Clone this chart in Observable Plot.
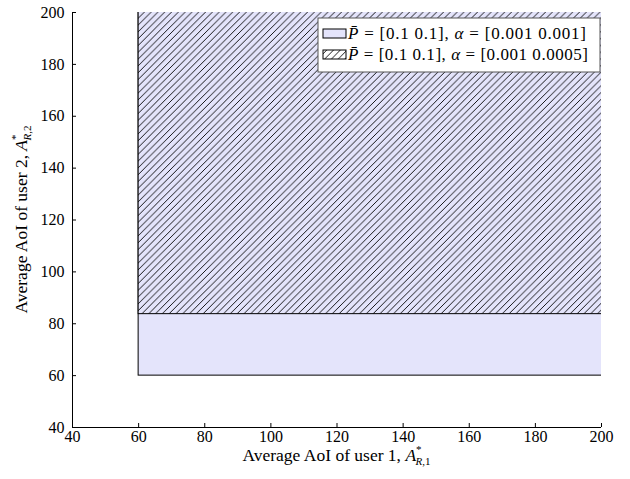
<!DOCTYPE html>
<html><head><meta charset="utf-8">
<script src="https://cdn.jsdelivr.net/npm/d3@7"></script>
<script src="https://cdn.jsdelivr.net/npm/@observablehq/plot@0.6"></script>
<style>
body{margin:0;background:#fff}
#chart{position:relative;width:630px;height:479px}
</style>
</head><body><div id="chart"></div>
<script>
// ---- data ----
const xTicks = [40, 60, 80, 100, 120, 140, 160, 180, 200];
const yTicks = [40, 60, 80, 100, 120, 140, 160, 180, 200];
const regionNames = ["alpha = [0.001 0.001]", "alpha = [0.001 0.0005]"];
const regionX1 = [60, 60];
const regionY1 = [60, 83.7];
const regionX2 = [260, 260];   // region extends beyond the plotted window
const regionY2 = [260, 260];
const legendPrefix = "P\u0304";
const legendTexts = [" = [0.1 0.1], ", " = [0.1 0.1], "];
const legendAlphas = [" = [0.001 0.001]", " = [0.001 0.0005]"];
const legendWidths = [238, 240];
const xLabelText = "Average AoI of user 1, ";
const yLabelText = "Average AoI of user 2, ";
const xLabelSub = "R,1";
const yLabelSub = "R,2";

const FILL = "#e4e4fb";
const regions = regionNames.map((n, i) => ({name: n, x1: regionX1[i], x2: regionX2[i], y1: regionY1[i], y2: regionY2[i]}));

const W = 630, H = 479, ML = 72, MR = 29, MT = 12, MB = 52;
const plot = Plot.plot({
  width: W, height: H,
  marginLeft: ML, marginRight: MR, marginTop: MT, marginBottom: MB,
  style: {fontFamily: "'Liberation Serif', serif", fontSize: "16px", color: "black", background: "white"},
  x: {domain: [40, 200]},
  y: {domain: [40, 200]},
  marks: [
    Plot.rect([regions[0]], {x1: "x1", x2: "x2", y1: "y1", y2: "y2", fill: FILL, stroke: "black", strokeWidth: 1, clip: true}),
    Plot.rect([regions[1]], {x1: "x1", x2: "x2", y1: "y1", y2: "y2", fill: "url(#hatchL)", stroke: "black", strokeWidth: 1, clip: true}),
    Plot.axisX({ticks: xTicks, tickSize: -4, tickPadding: 7, label: null, tickFormat: d => String(d)}),
    Plot.axisY({ticks: yTicks, tickSize: -4, tickPadding: 12, label: null, tickFormat: d => String(d)}),
    Plot.ruleX([40], {y1: 40, y2: 200, stroke: "black"}),
    Plot.ruleY([40], {x1: 40, x2: 200, stroke: "black"})
  ]
});
document.getElementById("chart").appendChild(plot);

const svg = d3.select(plot);
const defs = svg.insert("defs", ":first-child");
function hatch(id, bg) {
  const s = 6.8;
  const p = defs.append("pattern").attr("id", id).attr("patternUnits", "userSpaceOnUse")
    .attr("width", s).attr("height", s);
  p.append("rect").attr("width", s).attr("height", s).attr("fill", bg);
  p.append("path").attr("d", `M-1,1 l2,-2 M0,${s} l${s},-${s} M${s - 1},${s + 1} l2,-2`)
    .attr("stroke", "black").attr("stroke-width", 0.9).attr("fill", "none");
}
hatch("hatchL", FILL);
hatch("hatchW", "white");

// axis titles
const cx = (ML + (W - MR)) / 2;
const cy = (MT + (H - MB)) / 2;
function title(g, text, sub) {
  g.append("tspan").text(text);
  g.append("tspan").attr("font-style", "italic").text("A");
  g.append("tspan").attr("dy", -8).attr("font-size", "11px").text("*");
  g.append("tspan").attr("dy", 12).attr("dx", -6).attr("font-size", "11px").attr("font-style", "italic").text(sub[0]);
  g.append("tspan").attr("font-size", "11px").text(sub.slice(1));
}
const xt = svg.append("text").attr("x", cx).attr("y", 461).attr("text-anchor", "middle")
  .attr("font-size", "17.5px").attr("fill", "black");
title(xt, xLabelText, xLabelSub);
const yt = svg.append("text").attr("transform", `translate(27,${cy}) rotate(-90)`).attr("text-anchor", "middle")
  .attr("font-size", "17.5px").attr("fill", "black");
title(yt, yLabelText, yLabelSub);

// legend
const lg = svg.append("g").attr("transform", "translate(318,18)");
lg.append("rect").attr("width", 282).attr("height", 54).attr("fill", "white").attr("stroke", "#555").attr("stroke-width", 1);
legendTexts.forEach((t, i) => {
  const y0 = 11 + i * 21;
  lg.append("rect").attr("x", 5).attr("y", y0).attr("width", 23).attr("height", 9)
    .attr("fill", i === 0 ? FILL : "url(#hatchW)").attr("stroke", "black");
  const tx = lg.append("text").attr("x", 30).attr("y", y0 + 10).attr("text-anchor", "start")
    .attr("font-size", "17px").attr("fill", "black")
    .attr("textLength", legendWidths[i]).attr("lengthAdjust", "spacing");
  tx.append("tspan").attr("font-style", "italic").text(legendPrefix);
  tx.append("tspan").text(t);
  tx.append("tspan").attr("font-style", "italic").text("\u03b1");
  tx.append("tspan").text(legendAlphas[i]);
});
</script>
</body></html>
